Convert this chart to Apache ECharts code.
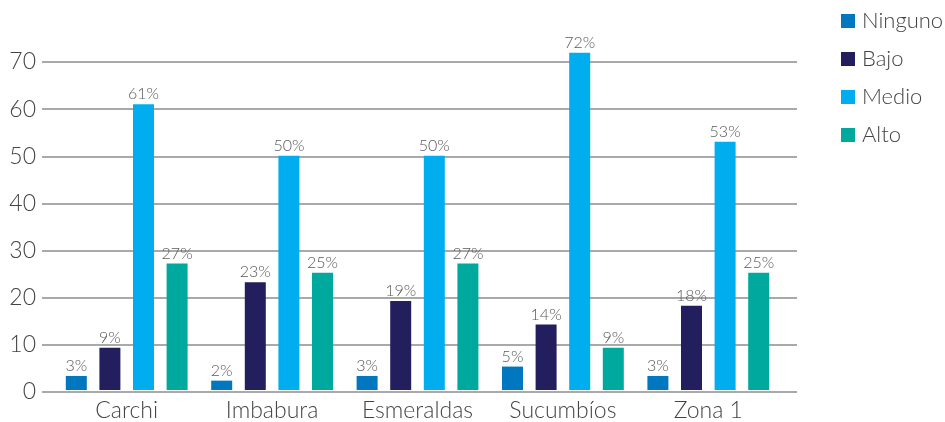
<!DOCTYPE html>
<html>
<head>
<meta charset="utf-8">
<script src="https://cdn.jsdelivr.net/npm/echarts@6/dist/echarts.min.js"></script>
<style>
  html, body { margin: 0; padding: 0; background: #ffffff; }
  #chart { width: 945px; height: 422px; }
</style>
</head>
<body>
<div id="chart"></div>
<script>
// Provinces and the share (%) of each level per province
const categories = ['Carchi', 'Imbabura', 'Esmeraldas', 'Sucumbíos', 'Zona 1'];
const ninguno = [3, 2, 3, 5, 3];
const bajo = [9, 23, 19, 14, 18];
const medio = [61, 50, 50, 72, 53];
const alto = [27, 25, 27, 9, 25];
const seriesNames = ['Ninguno', 'Bajo', 'Medio', 'Alto'];
const seriesColors = ['#0077bf', '#231f5f', '#00aeef', '#00a99d'];

const FONT = 'Lato';
const chart = echarts.init(document.getElementById('chart'), null, { renderer: 'canvas' });

const values = [ninguno, bajo, medio, alto];

const option = {
  animation: false,
  textStyle: { fontFamily: FONT },
  legend: {
    orient: 'vertical',
    left: 836,
    top: 5,
    itemWidth: 14,
    itemHeight: 14,
    itemGap: 16,
    icon: 'rect',
    data: seriesNames,
    textStyle: { fontFamily: FONT, fontWeight: 300, fontSize: 22, lineHeight: 22, color: '#444444', padding: [0, 0, 0, 2] }
  },
  grid: [
    // background grid carrying the value scale and the horizontal rules
    { left: 42, right: 148, top: 62, bottom: 30, containLabel: false },
    // bars
    { left: 54, right: 164, top: 62, bottom: 30, containLabel: false }
  ],
  xAxis: [
    { type: 'category', gridIndex: 0, data: categories, show: false },
    {
      type: 'category', gridIndex: 1, data: categories,
      axisLine: { show: false }, axisTick: { show: false },
      axisLabel: { fontFamily: FONT, fontWeight: 300, fontSize: 23, color: '#444444', margin: 9 }
    }
  ],
  yAxis: [
    {
      type: 'value', gridIndex: 0, min: 0, max: 70, interval: 10,
      axisLine: { show: false }, axisTick: { show: false },
      axisLabel: { fontFamily: FONT, fontWeight: 300, fontSize: 23, color: '#444444', margin: 6 },
      splitLine: { lineStyle: { color: '#a7a9ac', width: 2 } }
    },
    {
      type: 'value', gridIndex: 1, min: 0, max: 70, interval: 10,
      show: false, splitLine: { show: false }
    }
  ],
  series: seriesNames.map((name, i) => ({
    name: name,
    type: 'bar',
    xAxisIndex: 1,
    yAxisIndex: 1,
    clip: false,
    barWidth: 21,
    barGap: '60%',
    itemStyle: { color: seriesColors[i] },
    label: {
      show: true,
      position: 'top',
      distance: 2,
      formatter: p => p.value + '%',
      fontFamily: FONT,
      fontWeight: 300,
      fontSize: 16,
      color: '#5a5a5a'
    },
    data: values[i]
  }))
};

chart.setOption(option);
</script>
</body>
</html>
